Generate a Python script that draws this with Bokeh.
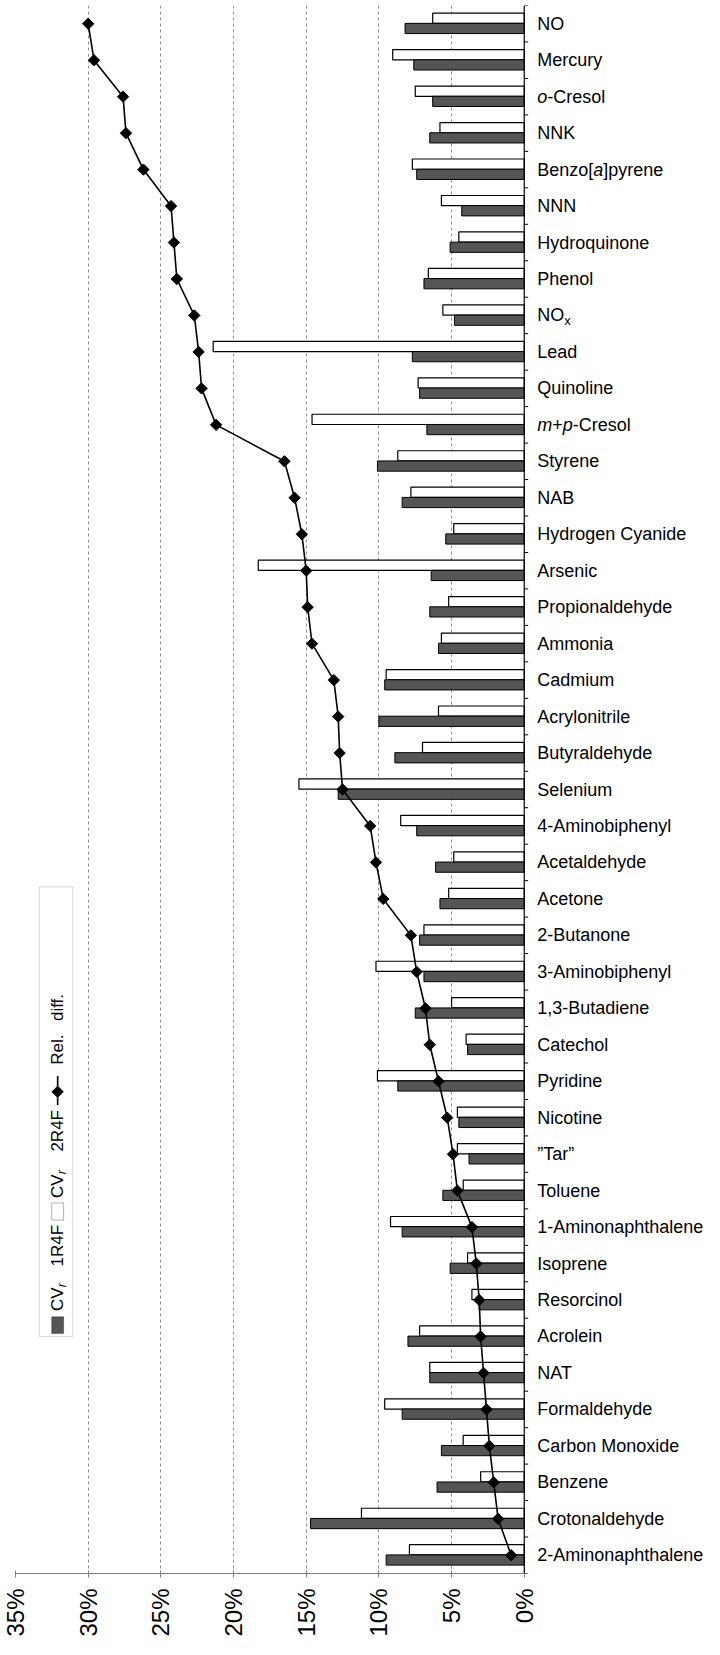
import math
from bokeh.plotting import figure
from bokeh.models import (Range1d, FixedTicker, PrintfTickFormatter, Label,
                          BoxAnnotation, ColumnDataSource, Span)
from bokeh.embed import file_html
from bokeh.resources import INLINE

# ---------------- data ----------------
categories = ["NO", "Mercury", "o-Cresol", "NNK", "Benzo[a]pyrene", "NNN",
              "Hydroquinone", "Phenol", "NOx", "Lead", "Quinoline", "m+p-Cresol",
              "Styrene", "NAB", "Hydrogen Cyanide", "Arsenic", "Propionaldehyde",
              "Ammonia", "Cadmium", "Acrylonitrile", "Butyraldehyde", "Selenium",
              "4-Aminobiphenyl", "Acetaldehyde", "Acetone", "2-Butanone",
              "3-Aminobiphenyl", "1,3-Butadiene", "Catechol", "Pyridine", "Nicotine",
              "\u201dTar\u201d", "Toluene", "1-Aminonaphthalene", "Isoprene",
              "Resorcinol", "Acrolein", "NAT", "Formaldehyde", "Carbon Monoxide",
              "Benzene", "Crotonaldehyde", "2-Aminonaphthalene"]

# CVr 1R4F (dark bars), %
cv_1r4f = [8.2, 7.6, 6.3, 6.5, 7.4, 4.3, 5.1, 6.9, 4.8, 7.7, 7.2, 6.7,
           10.1, 8.4, 5.4, 6.4, 6.5, 5.9, 9.6, 10.0, 8.9, 12.8,
           7.4, 6.1, 5.8, 7.2, 6.9, 7.5, 3.9, 8.7, 4.5,
           3.8, 5.6, 8.4, 5.1, 3.1, 8.0, 6.5, 8.4, 5.7,
           6.0, 14.7, 9.5]

# CVr 2R4F (white bars), %
cv_2r4f = [6.3, 9.05, 7.5, 5.8, 7.7, 5.7, 4.5, 6.6, 5.6, 21.4, 7.3, 14.6,
           8.7, 7.8, 4.85, 18.3, 5.2, 5.7, 9.5, 5.9, 7.0, 15.5,
           8.5, 4.85, 5.2, 6.9, 10.2, 5.0, 4.0, 10.1, 4.6,
           4.6, 4.2, 9.2, 3.9, 3.6, 7.2, 6.5, 9.6, 4.2,
           3.0, 11.2, 7.9]

# Relative difference (line), %
rel_diff = [30.0, 29.6, 27.6, 27.4, 26.2, 24.3, 24.1, 23.9, 22.7, 22.4, 22.2, 21.2,
            16.5, 15.8, 15.3, 15.0, 14.9, 14.6, 13.1, 12.8, 12.7, 12.5,
            10.6, 10.2, 9.7, 7.8, 7.4, 6.8, 6.5, 5.9, 5.3,
            4.9, 4.6, 3.6, 3.3, 3.1, 3.0, 2.8, 2.6, 2.4,
            2.1, 1.8, 0.9]

x_ticks = [0, 5, 10, 15, 20, 25, 30, 35]

# ---------------- styles ----------------
FONT = "Liberation Sans"
DARK = "#555555"
GRID = "#8c8c8c"
LABEL_PX = "18px"
X_MAX = 35
X_LABEL_ROOM = -12.4     # value-units room right of 0 % for the category names
TICK_LEN = 0.27          # category tick length in value units (~4 px)

n = len(categories)
centers = [i + 0.5 for i in range(n)]

p = figure(width=704, height=1639,
           x_range=Range1d(X_MAX, X_LABEL_ROOM), y_range=Range1d(n, 0),
           output_backend="svg", toolbar_location=None,
           min_border_left=15, min_border_right=0,
           min_border_top=5, min_border_bottom=63)
p.outline_line_color = None
p.background_fill_color = "white"
p.border_fill_color = "white"
p.yaxis.visible = False

# bottom (value) axis
xa = p.xaxis[0]
xa.bounds = (0, X_MAX)
xa.ticker = FixedTicker(ticks=x_ticks)
xa.formatter = PrintfTickFormatter(format="%d%%")
xa.major_label_orientation = math.pi / 2
xa.major_label_text_font = FONT
xa.major_label_text_font_size = "24px"
xa.major_label_text_color = "black"
xa.axis_line_color = "#7f7f7f"
xa.major_tick_line_color = "#7f7f7f"
xa.major_tick_in = 3
xa.major_tick_out = 4
xa.minor_tick_line_color = None
xa.major_label_standoff = 11

p.xgrid.ticker = FixedTicker(ticks=x_ticks[1:])
p.xgrid.grid_line_color = GRID
p.xgrid.grid_line_dash = "3 3"
p.ygrid.visible = False

src = ColumnDataSource(dict(
    cat=categories, y=centers,
    y_w=[c - 0.15 for c in centers], y_d=[c + 0.13 for c in centers],
    a=cv_1r4f, b=cv_2r4f, r=rel_diff))

p.hbar(y="y_w", left=0, right="b", height=0.28, fill_color="white",
       line_color="black", line_width=1.2, source=src)
p.hbar(y="y_d", left=0, right="a", height=0.28, fill_color=DARK,
       line_color="black", line_width=1, source=src)
p.line(x="r", y="y", line_color="black", line_width=1.6, source=src)
p.scatter(x="r", y="y", marker="square", angle=math.pi / 4, size=8,
          fill_color="black", line_color="black", source=src)

# category axis at 0 % with ticks on the category boundaries
p.add_layout(Span(location=0, dimension="height", line_color="black",
                  line_width=1.2))
bounds = list(range(n + 1))
p.segment(x0=[0] * len(bounds), x1=[-TICK_LEN] * len(bounds),
          y0=bounds, y1=bounds, line_color="black", line_width=1)

# ---------------- category labels ----------------
RICH = {
    "o-Cresol": [("o", "italic", 0.0, 0), ("-Cresol", "normal", 10.0, 0)],
    "Benzo[a]pyrene": [("Benzo[", "normal", 0.0, 0), ("a", "italic", 56.0, 0),
                       ("]pyrene", "normal", 66.0, 0)],
    "NOx": [("NO", "normal", 0.0, 0), ("x", "sub", 27.0, -5)],
    "m+p-Cresol": [("m", "italic", 0.0, 0), ("+", "normal", 15.0, 0),
                   ("p", "italic", 25.5, 0), ("-Cresol", "normal", 35.5, 0)],
}
LABEL_GAP = 13
for cat, yc in zip(categories, centers):
    pieces = RICH.get(cat, [(cat, "normal", 0.0, 0)])
    for txt, style, dx, dy in pieces:
        size = "13px" if style == "sub" else LABEL_PX
        fstyle = "normal" if style == "sub" else style
        p.add_layout(Label(x=0, y=yc, x_offset=LABEL_GAP + dx, y_offset=dy,
                           text=txt, text_font=FONT, text_font_size=size,
                           text_font_style=fstyle, text_color="black",
                           text_align="left", text_baseline="middle"))

# ---------------- rotated legend ----------------
LEG_X = 32.1          # centre line of the legend column (value units)
LEG_HALF = 0.41       # half width of the swatches
p.add_layout(BoxAnnotation(left=33.36, right=31.07, top=24.17, bottom=36.5,
                           fill_color="white", fill_alpha=1.0,
                           line_color="#7f7f7f", line_width=1,
                           level="underlay"))
p.add_layout(BoxAnnotation(left=LEG_X + LEG_HALF, right=LEG_X - LEG_HALF,
                           top=35.96, bottom=36.42, fill_color=DARK,
                           fill_alpha=1.0, line_color="black", line_width=1))
p.add_layout(BoxAnnotation(left=LEG_X + LEG_HALF, right=LEG_X - LEG_HALF,
                           top=32.84, bottom=33.31, fill_color="white",
                           fill_alpha=1.0, line_color="black", line_width=1))
p.line(x=[LEG_X, LEG_X], y=[29.36, 30.16], line_color="black", line_width=1.6)
p.scatter(x=[LEG_X], y=[29.79], marker="square", angle=math.pi / 4, size=8,
          fill_color="black", line_color="black")

LEG_TEXT = [("CV", 35.80, "normal", "17px", 0), ("r", 35.15, "italic", "13px", 4),
            ("1R4F", 34.58, "normal", "17px", 0),
            ("CV", 32.70, "normal", "17px", 0), ("r", 32.05, "italic", "13px", 4),
            ("2R4F", 31.43, "normal", "17px", 0),
            ("Rel.", 29.05, "normal", "17px", 0),
            ("diff.", 27.85, "normal", "17px", 0)]
for txt, yy, st, sz, dx in LEG_TEXT:
    p.add_layout(Label(x=LEG_X, y=yy, x_offset=dx, text=txt, angle=math.pi / 2,
                       text_font=FONT, text_font_size=sz, text_font_style=st,
                       text_color="black", text_align="left",
                       text_baseline="middle"))

open("out.html", "w").write(file_html(p, INLINE))
